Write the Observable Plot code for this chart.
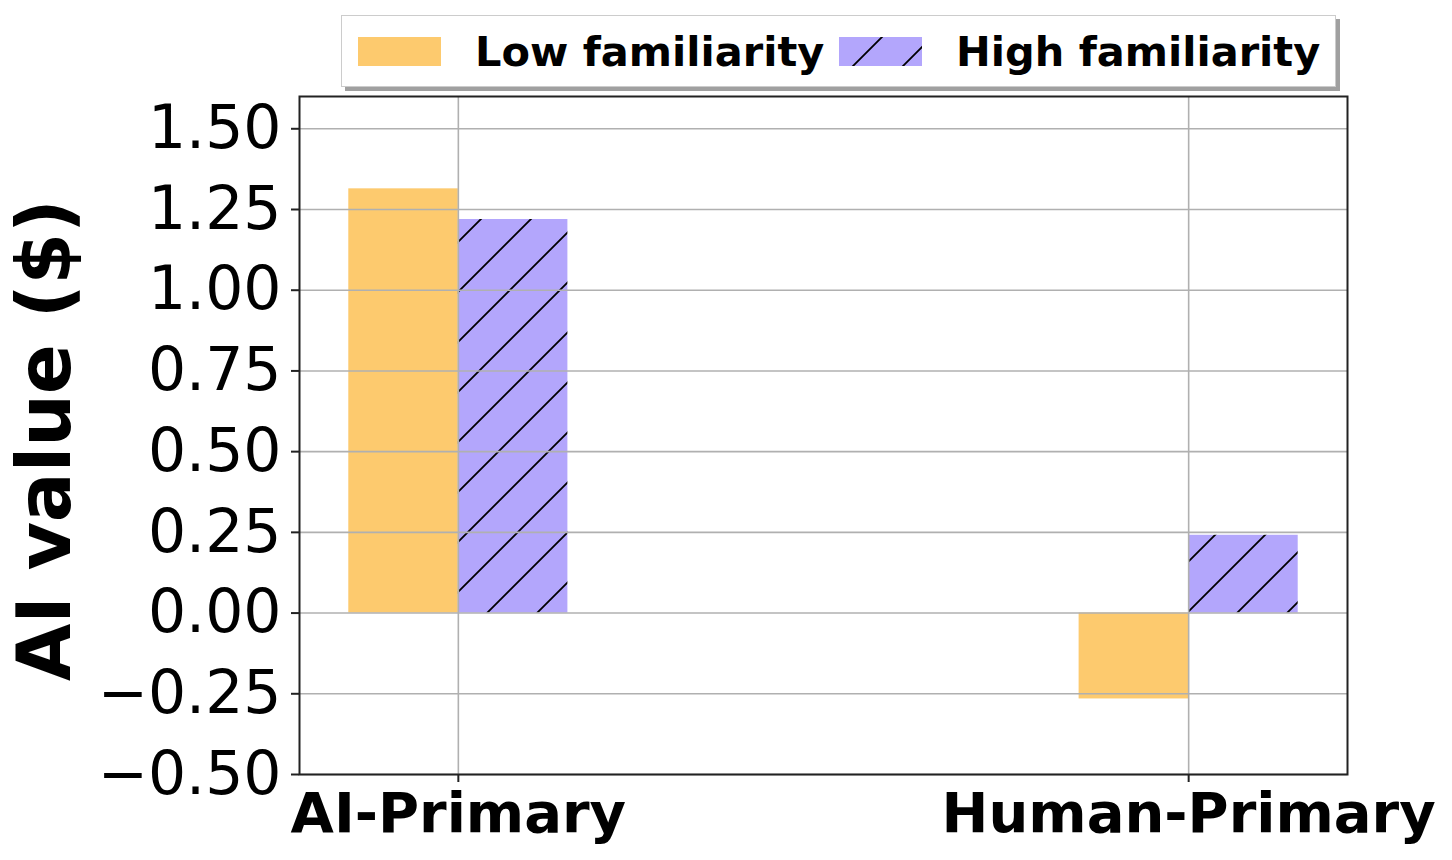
<!DOCTYPE html>
<html><head><meta charset="utf-8">
<script src="https://cdn.jsdelivr.net/npm/d3@7"></script>
<script src="https://cdn.jsdelivr.net/npm/@observablehq/plot@0.6"></script>
<style>
body{margin:0;background:#fff;}
#wrap{position:relative;width:1452px;height:860px;overflow:hidden;}
#legend{position:absolute;left:341px;top:15px;width:993px;height:70px;border:1.5px solid #cccccc;background:#fff;box-shadow:4px 4px 0 #a0a0a0;
 font-family:"DejaVu Sans",sans-serif;font-weight:bold;font-size:41.5px;color:#000;}
.item{position:absolute;top:0;height:70px;display:flex;align-items:center;white-space:nowrap;}
.sw{display:block;width:83px;height:29px;margin-right:34px;}
</style>
</head><body>
<div id="wrap">
  <div id="chart"></div>
  <div id="legend"></div>
</div>
<script>
const categories = ["AI-Primary", "Human-Primary"];
const groups = ["Low familiarity", "High familiarity"];
const lowValues = [1.314, -0.266];
const highValues = [1.219, 0.241];
const yTicks = [-0.5, -0.25, 0, 0.25, 0.5, 0.75, 1.0, 1.25, 1.5];
const colors = ["#FDCA6E", "#B3A6FC"];

const barW = 0.15;
const lowRows = categories.map((c, i) => ({cat: c, x1: i - barW, x2: i, value: lowValues[i]}));
const highRows = categories.map((c, i) => ({cat: c, x1: i, x2: i + barW, value: highValues[i]}));

const FONT = '"DejaVu Sans",sans-serif';

const chart = Plot.plot({
  width: 1452,
  height: 860,
  marginLeft: 299,
  marginRight: 105,
  marginTop: 96,
  marginBottom: 86,
  style: {fontFamily: FONT, background: "white", overflow: "visible"},
  x: {type: "linear", domain: [-0.2175, 1.2175]},
  y: {domain: [-0.5, 1.6]},
  marks: [
    Plot.rect(lowRows, {x1: "x1", x2: "x2", y1: 0, y2: "value", fill: colors[0]}),
    Plot.rect(highRows, {x1: "x1", x2: "x2", y1: 0, y2: "value", fill: "url(#hatch)"}),
    Plot.gridY(yTicks, {stroke: "#b0b0b0", strokeOpacity: 1, strokeWidth: 1.6}),
    Plot.gridX([0, 1], {stroke: "#b0b0b0", strokeOpacity: 1, strokeWidth: 1.6}),
    Plot.frame({stroke: "#222", strokeWidth: 2}),
    Plot.axisY(yTicks, {tickSize: 8, tickPadding: 10, strokeWidth: 2, stroke: "#222", tickFormat: d3.format(".2f"), fontSize: 60, label: null, fill: "#000"}),
    Plot.axisX([0, 1], {tickSize: 8, tickPadding: 10, strokeWidth: 2, stroke: "#222", tickFormat: i => categories[i], fontSize: 56, fontWeight: "bold", label: null, fill: "#000"})
  ]
});

const svg = d3.select(chart);
const defs = svg.insert("defs", ":first-child");
const pat = defs.append("pattern").attr("id", "hatch").attr("patternUnits", "userSpaceOnUse")
  .attr("width", 50).attr("height", 50);
pat.append("rect").attr("width", 50).attr("height", 50).attr("fill", colors[1]);
pat.append("path").attr("d", "M0,50L50,0M-5,5L5,-5M45,55L55,45").attr("stroke", "#000").attr("stroke-width", 1.8);

svg.append("text")
  .attr("transform", "translate(70,440) rotate(-90)")
  .attr("text-anchor", "middle")
  .attr("font-family", FONT)
  .attr("font-weight", "bold")
  .attr("font-size", 74)
  .attr("fill", "#000")
  .text("AI value ($)");

document.getElementById("chart").appendChild(chart);

// Legend
const legend = d3.select("#legend");
const lefts = [16, 497];
groups.forEach((g, k) => {
  const item = legend.append("div").attr("class", "item").style("left", lefts[k] + "px");
  const sw = item.append("svg").attr("class", "sw").attr("width", 83).attr("height", 29);
  if (k === 0) {
    sw.append("rect").attr("width", 83).attr("height", 29).attr("fill", colors[0]);
  } else {
    const p = sw.append("defs").append("pattern").attr("id", "hatchL").attr("patternUnits", "userSpaceOnUse")
      .attr("width", 50).attr("height", 50).attr("x", 5).attr("y", -12);
    p.append("rect").attr("width", 50).attr("height", 50).attr("fill", colors[1]);
    p.append("path").attr("d", "M0,50L50,0M-5,5L5,-5M45,55L55,45").attr("stroke", "#000").attr("stroke-width", 1.8);
    sw.append("rect").attr("width", 83).attr("height", 29).attr("fill", "url(#hatchL)");
  }
  item.append("span").text(g);
});
</script>
</body></html>
